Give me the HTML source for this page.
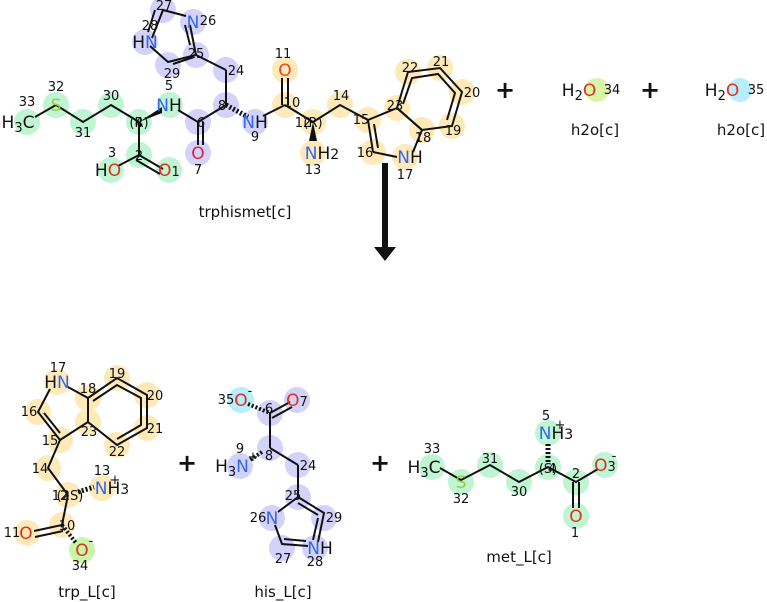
<!DOCTYPE html>
<html><head><meta charset="utf-8"><style>
html,body{margin:0;padding:0;background:#fff;}
svg{display:block;font-family:"DejaVu Sans","Liberation Sans",sans-serif;}
.n{font-size:13px;fill:#111;text-anchor:middle;}
.a{font-size:17px;text-anchor:middle;}
.l{font-size:15px;fill:#111;text-anchor:middle;}
.p{font-size:24px;font-weight:bold;fill:#111;text-anchor:middle;}
.g circle{fill:#bff5d2}.b circle{fill:#d2d2fb}.y circle{fill:#fdeab8}
line,polyline,polygon.s{stroke:#111;stroke-width:2;fill:none}
</style></head><body>
<svg width="767" height="602" viewBox="0 0 767 602">
<g class="g" >
<circle cx="27" cy="122" r="13"/><circle cx="56" cy="105" r="13"/><circle cx="83" cy="122" r="13"/><circle cx="111" cy="105" r="13"/><circle cx="139" cy="122" r="13"/><circle cx="170" cy="105" r="13"/><circle cx="139" cy="155" r="13"/><circle cx="111" cy="170" r="13"/><circle cx="169" cy="170" r="13"/>
</g>
<g class="b">
<circle cx="198" cy="122" r="13"/><circle cx="198" cy="153" r="13"/><circle cx="226" cy="105" r="13"/><circle cx="226" cy="70" r="13"/><circle cx="196" cy="55" r="13"/><circle cx="193" cy="22" r="13"/><circle cx="163" cy="10" r="13"/><circle cx="145" cy="42" r="13"/><circle cx="168" cy="65" r="13"/><circle cx="255" cy="122" r="13"/>
</g>
<g class="y">
<circle cx="285" cy="105" r="13"/><circle cx="285" cy="70" r="13"/><circle cx="313" cy="122" r="13"/><circle cx="313" cy="153" r="13"/><circle cx="340" cy="105" r="13"/><circle cx="368" cy="120" r="13"/><circle cx="373" cy="152" r="13"/><circle cx="405" cy="157" r="13"/><circle cx="422" cy="130" r="13"/><circle cx="452" cy="126" r="13"/><circle cx="462" cy="92" r="13"/><circle cx="440" cy="68" r="13"/><circle cx="408" cy="72" r="13"/><circle cx="397" cy="108" r="13"/>
</g>
<polyline points="35,117 56,105 83,122 111,105 139,122"/>
<line x1="139" y1="122" x2="139" y2="155"/><line x1="139" y1="155" x2="118" y2="166"/>
<line x1="139" y1="155" x2="163" y2="169"/><line x1="136" y1="160" x2="160" y2="174"/>
<polygon points="139,122 162,107 162,113" fill="#111"/>
<line x1="178" y1="110" x2="198" y2="122"/>
<line x1="198" y1="122" x2="198" y2="145"/><line x1="203" y1="122" x2="203" y2="145"/>
<line x1="198" y1="122" x2="226" y2="105"/>
<line x1="226" y1="105" x2="226" y2="70"/><line x1="226" y1="70" x2="196" y2="55"/>
<polyline points="196,55 190,25"/><line x1="190" y1="45" x2="185" y2="25"/>
<polyline points="186,16 163,10 152,38"/><line x1="155" y1="10" x2="148" y2="32"/>
<polyline points="150,46 168,62 196,55"/>
<line x1="173" y1="64" x2="194" y2="57"/>
<line x1="226" y1="105" x2="248" y2="117" style="stroke-dasharray:2,2;stroke-width:5"/>
<line x1="263" y1="116" x2="285" y2="105"/>
<line x1="282" y1="105" x2="282" y2="78"/><line x1="288" y1="105" x2="288" y2="78"/>
<line x1="285" y1="105" x2="313" y2="122"/>
<polygon points="313,122 309,141 317,141" fill="#111"/>
<polyline points="313,122 340,105 368,120"/>
<line x1="368" y1="120" x2="397" y2="108"/>
<line x1="368" y1="120" x2="373" y2="152"/><line x1="374" y1="124" x2="378" y2="148"/>
<line x1="373" y1="152" x2="397" y2="157"/>
<line x1="413" y1="152" x2="422" y2="130"/>
<line x1="422" y1="130" x2="397" y2="108"/>
<polygon class="s" points="397,108 408,72 440,68 462,92 452,126 422,130"/>
<polyline points="403,104 412,78 438,74 455,93 447,120"/>
<text x="18" y="128" class="a" fill="#111">H<tspan font-size="13" dy="4">3</tspan><tspan dy="-4">C</tspan></text>
<text x="56" y="111" class="a" fill="#9acd32">S</text>
<text x="169" y="111" class="a" fill="#3366ee">N<tspan fill="#111">H</tspan></text>
<text x="139" y="127" class="n" fill="#333">(R)</text>
<text x="108" y="176" class="a" fill="#111">H<tspan fill="#e03020">O</tspan></text>
<text x="169" y="176" class="a" fill="#e03020">O<tspan fill="#111" font-size="13">1</tspan></text>
<text x="198" y="159" class="a" fill="#e02040">O</text>
<text x="255" y="128" class="a" fill="#3366ee">N<tspan fill="#111">H</tspan></text>
<text x="285" y="76" class="a" fill="#ee4422">O</text>
<text x="313" y="127" class="n" fill="#333">(R)</text>
<text x="322" y="159" class="a" fill="#3366ee">N<tspan fill="#111">H</tspan><tspan fill="#111" font-size="14">2</tspan></text>
<text x="145" y="48" class="a" fill="#3366ee"><tspan fill="#111">H</tspan>N</text>
<text x="193" y="28" class="a" fill="#3366ee">N</text>
<text x="410" y="163" class="a" fill="#3366ee">N<tspan fill="#111">H</tspan></text>
<g class="n">
<text x="27" y="106">33</text><text x="56" y="91">32</text><text x="83" y="137">31</text><text x="111" y="100">30</text><text x="139" y="127">4</text><text x="169" y="90">5</text><text x="139" y="160">2</text><text x="112" y="157">3</text>
<text x="201" y="127">6</text><text x="198" y="174">7</text><text x="222" y="110">8</text><text x="236" y="75">24</text><text x="196" y="58">25</text><text x="208" y="25">26</text><text x="164" y="10">27</text><text x="150" y="30">28</text><text x="172" y="78">29</text><text x="255" y="141">9</text>
<text x="292" y="107">10</text><text x="283" y="58">11</text><text x="303" y="127">12</text><text x="313" y="174">13</text><text x="341" y="100">14</text><text x="361" y="124">15</text><text x="365" y="157">16</text><text x="405" y="179">17</text><text x="423" y="142">18</text><text x="453" y="135">19</text><text x="472" y="97">20</text><text x="441" y="66">21</text><text x="410" y="72">22</text><text x="395" y="110">23</text>
</g>
<text x="245" y="217" class="l">trphismet[c]</text>
<line x1="385" y1="163" x2="385" y2="248" style="stroke-width:6"/>
<polygon points="374,247 396,247 385,261" fill="#111"/>
<text x="505" y="98" class="p">+</text>
<circle cx="597" cy="90" r="12" fill="#d8f5a8"/>
<text x="579" y="96" class="a" fill="#111">H<tspan font-size="13" dy="4">2</tspan><tspan dy="-4" fill="#e03020">O</tspan></text>
<text x="612" y="94" class="n">34</text>
<text x="595" y="135" class="l">h2o[c]</text>
<text x="650" y="98" class="p">+</text>
<circle cx="740" cy="90" r="12" fill="#b6eefc"/>
<text x="722" y="96" class="a" fill="#111">H<tspan font-size="13" dy="4">2</tspan><tspan dy="-4" fill="#e03020">O</tspan></text>
<text x="756" y="94" class="n">35</text>
<text x="741" y="135" class="l">h2o[c]</text>
<g class="y">
<circle cx="57" cy="382" r="13"/><circle cx="88" cy="398" r="13"/><circle cx="117" cy="378" r="13"/><circle cx="147" cy="395" r="13"/><circle cx="147" cy="428" r="13"/><circle cx="117" cy="445" r="13"/><circle cx="88" cy="422" r="13"/><circle cx="60" cy="440" r="13"/><circle cx="38" cy="412" r="13"/><circle cx="48" cy="468" r="13"/><circle cx="68" cy="495" r="13"/><circle cx="102" cy="488" r="13"/><circle cx="62" cy="525" r="13"/><circle cx="27" cy="533" r="13"/>
</g>
<circle cx="82" cy="550" r="13" fill="#c8f5a8"/>
<polygon class="s" points="88,398 117,378 147,395 147,428 117,445 88,422"/>
<polyline points="93,401 117,385 141,398 141,425 117,439"/>
<polyline points="66,386 88,398 88,422 60,440 38,412 50,389"/>
<line x1="60" y1="433" x2="44" y2="413"/>
<polyline points="60,440 48,468 68,495"/>
<line x1="68" y1="495" x2="62" y2="525"/>
<line x1="62" y1="525" x2="34" y2="531"/><line x1="63" y1="531" x2="35" y2="537"/>
<line x1="62" y1="525" x2="76" y2="543" style="stroke-dasharray:2,2;stroke-width:4"/>
<line x1="78" y1="492" x2="94" y2="487" style="stroke-dasharray:2,2;stroke-width:5"/>
<text x="57" y="388" class="a" fill="#3366ee"><tspan fill="#111">H</tspan>N</text>
<text x="26" y="539" class="a" fill="#e03020">O</text>
<text x="82" y="556" class="a" fill="#e03020">O</text><text x="91" y="545" class="n">-</text>
<text x="112" y="494" class="a" fill="#3366ee">N<tspan fill="#111">H</tspan><tspan fill="#111" font-size="14">3</tspan></text><text x="115" y="484" class="n">+</text>
<text x="70" y="500" class="n" fill="#333">(2S)</text>
<g class="n">
<text x="58" y="372">17</text><text x="88" y="393">18</text><text x="117" y="378">19</text><text x="155" y="400">20</text><text x="155" y="433">21</text><text x="117" y="456">22</text><text x="89" y="436">23</text><text x="50" y="445">15</text><text x="29" y="416">16</text><text x="40" y="473">14</text><text x="60" y="500">12</text><text x="102" y="475">13</text><text x="67" y="530">10</text><text x="12" y="537">11</text><text x="80" y="570">34</text>
</g>
<text x="87" y="597" class="l">trp_L[c]</text>
<text x="187" y="471" class="p">+</text>
<circle cx="241" cy="400" r="13" fill="#b6eefc"/>
<g class="b">
<circle cx="270" cy="413" r="13"/><circle cx="297" cy="400" r="13"/><circle cx="270" cy="448" r="13"/><circle cx="240" cy="466" r="13"/><circle cx="298" cy="465" r="13"/><circle cx="298" cy="497" r="13"/><circle cx="272" cy="518" r="13"/><circle cx="282" cy="548" r="13"/><circle cx="315" cy="548" r="13"/><circle cx="324" cy="518" r="13"/>
</g>
<line x1="248" y1="404" x2="270" y2="413" style="stroke-dasharray:2,2;stroke-width:4"/>
<line x1="270" y1="413" x2="290" y2="402"/><line x1="272" y1="418" x2="292" y2="407"/>
<line x1="270" y1="413" x2="270" y2="448"/>
<line x1="270" y1="448" x2="298" y2="465"/>
<line x1="262" y1="452" x2="250" y2="460" style="stroke-dasharray:2,2;stroke-width:4"/>
<line x1="298" y1="465" x2="298" y2="497"/>
<polyline points="298,497 278,512"/><polyline points="275,525 282,544 308,546"/><line x1="284" y1="539" x2="306" y2="541"/>
<polyline points="298,497 324,513 318,542"/><line x1="298" y1="503" x2="318" y2="515"/><line x1="318" y1="518" x2="313" y2="540"/>
<text x="241" y="406" class="a" fill="#e03020">O</text><text x="250" y="395" class="n">-</text>
<text x="297" y="406" class="a" fill="#e03020">O<tspan fill="#111" font-size="13">7</tspan></text>
<text x="232" y="472" class="a" fill="#111">H<tspan font-size="13" dy="4">3</tspan><tspan dy="-4" fill="#3366ee">N</tspan></text><text x="253" y="461" class="n">+</text>
<text x="272" y="524" class="a" fill="#3366ee">N</text>
<text x="320" y="554" class="a" fill="#3366ee">N<tspan fill="#111">H</tspan></text>
<g class="n">
<text x="226" y="404">35</text><text x="269" y="413">6</text><text x="269" y="460">8</text><text x="240" y="453">9</text><text x="308" y="470">24</text><text x="293" y="500">25</text><text x="258" y="522">26</text><text x="283" y="563">27</text><text x="315" y="566">28</text><text x="334" y="522">29</text>
</g>
<text x="283" y="597" class="l">his_L[c]</text>
<text x="380" y="471" class="p">+</text>
<g class="g">
<circle cx="432" cy="467" r="13"/><circle cx="461" cy="482" r="13"/><circle cx="490" cy="465" r="13"/><circle cx="519" cy="482" r="13"/><circle cx="548" cy="467" r="13"/><circle cx="548" cy="433" r="13"/><circle cx="576" cy="482" r="13"/><circle cx="605" cy="465" r="13"/><circle cx="576" cy="516" r="13"/>
</g>
<polyline points="440,468 461,480 490,465 519,482 548,467 576,482 598,469"/>
<line x1="573" y1="482" x2="573" y2="508"/><line x1="579" y1="482" x2="579" y2="508"/>
<line x1="548" y1="462" x2="548" y2="442" style="stroke-dasharray:2,2;stroke-width:5"/>
<text x="424" y="473" class="a" fill="#111">H<tspan font-size="13" dy="4">3</tspan><tspan dy="-4">C</tspan></text>
<text x="461" y="488" class="a" fill="#9acd32">S</text>
<text x="556" y="439" class="a" fill="#3366ee">N<tspan fill="#111">H</tspan><tspan fill="#111" font-size="14">3</tspan></text><text x="560" y="429" class="n">+</text>
<text x="548" y="473" class="n" fill="#333">(S)</text>
<text x="605" y="471" class="a" fill="#e03020">O<tspan fill="#111" font-size="13">3</tspan></text><text x="614" y="460" class="n">-</text>
<text x="576" y="522" class="a" fill="#e03020">O</text>
<g class="n">
<text x="432" y="453">33</text><text x="461" y="503">32</text><text x="490" y="463">31</text><text x="519" y="496">30</text><text x="552" y="473">4</text><text x="546" y="420">5</text><text x="576" y="478">2</text><text x="575" y="537">1</text>
</g>
<text x="519" y="562" class="l">met_L[c]</text>
</svg>
</body></html>
